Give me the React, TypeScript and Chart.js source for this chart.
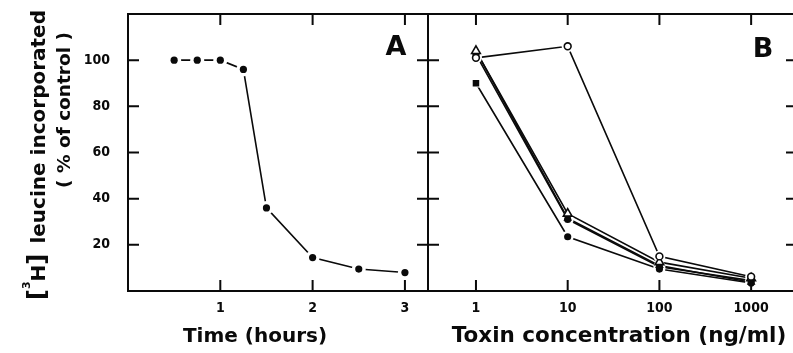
import React, { useEffect, useRef } from "react";
import { Chart, registerables } from "chart.js";

Chart.register(...registerables);

// ---- data ----
const timeHours = [0.5, 0.75, 1, 1.25, 1.5, 2, 2.5, 3];
const leucineTime = [100, 100, 100, 96, 36, 14.5, 9.5, 8];

const toxinConc = [1, 10, 100, 1000];
const openCircle = [101, 106, 15, 6.2];
const openTriangle = [104, 33.5, 12.5, 5.5];
const filledTriangle = [104, 31.5, 11, 3.8];
const filledCircle = [102.5, 31, 10.5, 4.5];
const filledSquare = [90, 23.5, 9.5, 3.5];

const yTicks = [20, 40, 60, 80, 100];
const xTicksA = [1, 2, 3];
const xTicksB = [1, 10, 100, 1000];

const INK = "#0a0a0a";
const TITLE_FONT = "'DejaVu Sans', 'Liberation Sans', sans-serif";
const TICK_FONT = "'DejaVu Sans Condensed', 'Liberation Sans', sans-serif";

type Pt = { x: number; y: number };
const pts = (xs: number[], ys: number[]): Pt[] => xs.map((x, i) => ({ x, y: ys[i] }));

function layered(data: Pt[], style: any, markerRadius: any, open: boolean, haloR: number) {
  return [
    {
      data,
      showLine: true,
      borderColor: INK,
      borderWidth: 1.6,
      pointRadius: 0,
      order: 3,
    },
    {
      data,
      showLine: false,
      pointStyle: style,
      pointRadius: haloR,
      pointBackgroundColor: "#ffffff",
      pointBorderWidth: 0,
      order: 2,
    },
    {
      data,
      showLine: false,
      pointStyle: style,
      pointRadius: markerRadius,
      pointBackgroundColor: open ? "#ffffff" : INK,
      pointBorderColor: INK,
      pointBorderWidth: open ? 1.6 : 0,
      order: 1,
    },
  ];
}

function framePlugin(xt: number[], yt: number[], drawText: (ctx: CanvasRenderingContext2D, chart: any) => void) {
  return {
    id: "frame" + Math.random().toString(36).slice(2),
    afterDatasetsDraw(chart: any) {
      const { ctx, chartArea } = chart;
      const { left, right, top, bottom } = chartArea;
      const xs = chart.scales.x;
      const ys = chart.scales.y;
      ctx.save();
      ctx.strokeStyle = INK;
      ctx.lineWidth = 2;
      ctx.strokeRect(left, top, right - left, bottom - top);
      const L = 11;
      ctx.beginPath();
      yt.forEach((v) => {
        const py = ys.getPixelForValue(v);
        ctx.moveTo(left, py);
        ctx.lineTo(left + L, py);
        ctx.moveTo(right - L, py);
        ctx.lineTo(right, py);
      });
      xt.forEach((v) => {
        const px = xs.getPixelForValue(v);
        ctx.moveTo(px, top);
        ctx.lineTo(px, top + L);
        ctx.moveTo(px, bottom - L);
        ctx.lineTo(px, bottom);
      });
      ctx.stroke();
      ctx.restore();
    },
    afterDraw(chart: any) {
      const ctx = chart.ctx as CanvasRenderingContext2D;
      ctx.save();
      ctx.fillStyle = INK;
      drawText(ctx, chart);
      ctx.restore();
    },
  };
}

function commonY(display: boolean) {
  return {
    type: "linear",
    min: 0,
    max: 120,
    display,
    grid: { display: false, drawTicks: false },
    border: { display: false },
    afterBuildTicks: (s: any) => {
      s.ticks = yTicks.map((v) => ({ value: v }));
    },
    afterFit: (s: any) => {
      if (display) s.width = 128;
      s.paddingTop = 0;
      s.paddingBottom = 0;
      s.paddingLeft = 0;
      s.paddingRight = 0;
    },
    ticks: {
      padding: 18,
      color: INK,
      font: { family: TICK_FONT, size: 14, weight: "bold" },
      callback: (v: any) => String(v),
    },
  };
}

function xTickOpts() {
  return {
    padding: 9,
    color: INK,
    maxRotation: 0,
    autoSkip: false,
    font: { family: TICK_FONT, size: 14, weight: "bold" },
    callback: (v: any) => String(v),
  };
}

const xFit = (s: any) => {
  s.height = 62;
  s.paddingLeft = 0;
  s.paddingRight = 0;
  s.paddingTop = 0;
  s.paddingBottom = 0;
};

export default function App() {
  const refA = useRef<HTMLCanvasElement>(null);
  const refB = useRef<HTMLCanvasElement>(null);

  useEffect(() => {
    const drawA = (ctx: CanvasRenderingContext2D) => {
      ctx.font = `bold 27px ${TITLE_FONT}`;
      ctx.textAlign = "center";
      ctx.textBaseline = "middle";
      ctx.fillText("A", 396, 48);
      ctx.font = `bold 20px ${TITLE_FONT}`;
      ctx.fillText("Time (hours)", 255, 337);
      ctx.save();
      ctx.translate(45, 300);
      ctx.rotate(-Math.PI / 2);
      ctx.textAlign = "left";
      ctx.textBaseline = "alphabetic";
      let u = 0;
      ctx.font = `bold 24px ${TITLE_FONT}`;
      ctx.fillText("[", u, 0);
      u += ctx.measureText("[").width;
      ctx.font = `bold 11px ${TITLE_FONT}`;
      ctx.fillText("3", u, -15);
      u += ctx.measureText("3").width;
      ctx.font = `bold 20px ${TITLE_FONT}`;
      ctx.fillText("H", u, 0);
      u += ctx.measureText("H").width;
      ctx.font = `bold 24px ${TITLE_FONT}`;
      ctx.fillText("]", u, 0);
      ctx.font = `bold 20px ${TITLE_FONT}`;
      ctx.textAlign = "right";
      ctx.fillText("leucine incorporated", 290, 0);
      ctx.restore();
      ctx.save();
      ctx.translate(70, 300);
      ctx.rotate(-Math.PI / 2);
      ctx.textAlign = "center";
      ctx.textBaseline = "alphabetic";
      ctx.font = `bold 18.5px ${TITLE_FONT}`;
      ctx.fillText("( % of control )", 190, 0);
      ctx.restore();
    };

    const drawB = (ctx: CanvasRenderingContext2D) => {
      ctx.font = `bold 27px ${TITLE_FONT}`;
      ctx.textAlign = "center";
      ctx.textBaseline = "middle";
      ctx.fillText("B", 335, 50);
      ctx.font = `bold 21.5px ${TITLE_FONT}`;
      ctx.fillText("Toxin concentration (ng/ml)", 191, 336);
    };

    const chartA = new Chart(refA.current as HTMLCanvasElement, {
      type: "line",
      data: {
        datasets: layered(pts(timeHours, leucineTime), "circle", 3.6, false, 7) as any,
      },
      options: {
        animation: false,
        responsive: false,
        events: [],
        layout: { autoPadding: false, padding: { top: 14, right: 2, left: 0, bottom: 0 } },
        plugins: { legend: { display: false }, tooltip: { enabled: false } },
        scales: {
          x: {
            type: "linear",
            min: 0,
            max: 3.25,
            grid: { display: false, drawTicks: false },
            border: { display: false },
            afterBuildTicks: (s: any) => {
              s.ticks = xTicksA.map((v) => ({ value: v }));
            },
            afterFit: xFit,
            ticks: xTickOpts(),
          },
          y: commonY(true),
        } as any,
      },
      plugins: [framePlugin(xTicksA, yTicks, drawA)],
    });

    const dsB = [
      ...layered(pts(toxinConc, openCircle), "circle", 3.4, true, 6),
      ...layered(pts(toxinConc, openTriangle), "triangle", 5, true, 6),
      ...layered(pts(toxinConc, filledTriangle), "triangle", 5, false, 6),
      ...layered(pts(toxinConc, filledCircle), "circle", 3.6, false, 6),
      ...layered(pts(toxinConc, filledSquare), ["rect", "circle", "circle", "circle"], [4.6, 3.6, 3.6, 3.6], false, 6),
    ];

    const chartB = new Chart(refB.current as HTMLCanvasElement, {
      type: "line",
      data: { datasets: dsB as any },
      options: {
        animation: false,
        responsive: false,
        events: [],
        layout: { autoPadding: false, padding: { top: 14, right: 3, left: 0, bottom: 0 } },
        plugins: { legend: { display: false }, tooltip: { enabled: false } },
        scales: {
          x: {
            type: "logarithmic",
            min: Math.pow(10, -0.5),
            max: Math.pow(10, 3.5),
            grid: { display: false, drawTicks: false },
            border: { display: false },
            afterBuildTicks: (s: any) => {
              s.ticks = xTicksB.map((v) => ({ value: v }));
            },
            afterFit: xFit,
            ticks: xTickOpts(),
          },
          y: commonY(false),
        } as any,
      },
      plugins: [framePlugin(xTicksB, yTicks, drawB)],
    });

    return () => {
      chartA.destroy();
      chartB.destroy();
    };
  }, []);

  return (
    <div
      style={{
        position: "absolute",
        left: 0,
        top: 0,
        width: 793,
        height: 353,
        overflow: "hidden",
        background: "#ffffff",
      }}
    >
      <canvas ref={refA} width={430} height={353} style={{ position: "absolute", left: 0, top: 0 }} />
      <canvas ref={refB} width={372} height={353} style={{ position: "absolute", left: 428, top: 0 }} />
    </div>
  );
}
